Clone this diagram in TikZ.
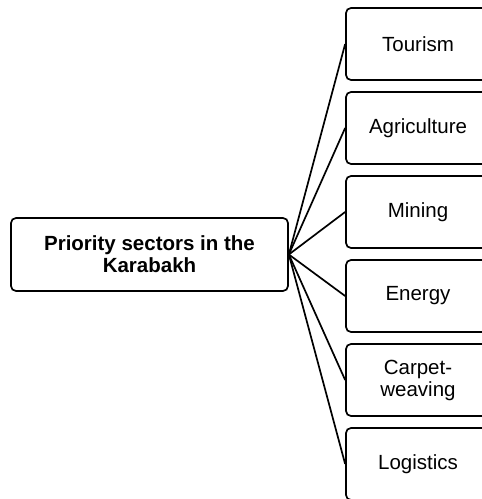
\documentclass[tikz,border=0pt]{standalone}
\usepackage{fontspec}
\setmainfont{Liberation Sans}
\usepackage{tikz}
\usetikzlibrary{positioning}

\begin{document}
\begin{tikzpicture}[x=1pt, y=1pt, node distance = 84pt, on grid, line width=1.7pt, font=\fontsize{20.5}{22}\selectfont, sector/.style ={rectangle, rounded corners=5pt, draw, text = black, minimum width=144pt, minimum height=72pt, align=center, inner sep=2pt}, main/.style={sector, minimum width=277pt, minimum height=73pt, font=\fontsize{20.5}{22}\selectfont\bfseries}]
		\useasboundingbox (0,0) rectangle (482,499);
		\clip (0,0) rectangle (482,499);
		\node[main] (K) at (149.5,244.5) {Priority sectors in the\\Karabakh};
		\node[sector] (T) at (418,455) {Tourism};
		\node[sector] (A) [below = of T] {Agriculture};
		\node[sector] (M) [below = of A] {Mining};
		\node[sector] (E) [below = of M] {Energy};
		\node[sector] (C) [below = of E] {Carpet-\\weaving};
		\node[sector] (L) [below = of C] {Logistics};
		\path (K.east) edge (T.west)
		(K.east) edge (A.west)
		(K.east) edge (M.west)
		(K.east) edge (E.west)
		(K.east) edge (C.west)
		(K.east) edge (L.west);
		\end{tikzpicture}
\end{document}
